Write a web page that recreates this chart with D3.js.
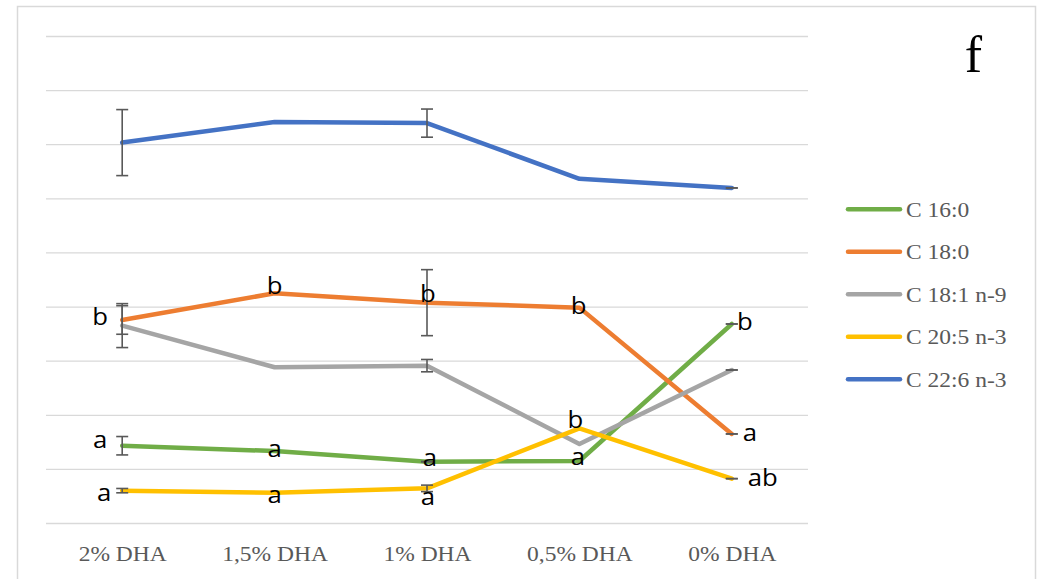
<!DOCTYPE html>
<html>
<head>
<meta charset="utf-8">
<script src="https://cdn.jsdelivr.net/npm/d3@7"></script>
<style>
  html, body { margin: 0; padding: 0; background: #fff; }
  svg { display: block; }
</style>
</head>
<body>
<svg id="chart" width="1043" height="579"></svg>
<script>
// Treatments on the x axis
const categories = ["2% DHA", "1,5% DHA", "1% DHA", "0,5% DHA", "0% DHA"];
const seriesNames = ["C 16:0", "C 18:0", "C 18:1 n-9", "C 20:5 n-3", "C 22:6 n-3"];

// Fatty acid content per treatment
const c160 = [7.14, 6.65, 5.67, 5.73, 18.39];
const c180 = [18.76, 21.23, 20.36, 19.90, 8.23];
const c181 = [18.24, 14.39, 14.54, 7.30, 14.14];
const c205 = [2.99, 2.80, 3.20, 8.75, 4.10];
const c226 = [35.15, 37.05, 36.95, 31.80, 30.96];

// Standard deviations (null = no error bar shown)
const errC160 = [0.85, null, 0.00, null, 0.00];
const errC180 = [1.32, null, 3.05, null, 0.00];
const errC181 = [2.03, null, 0.57, null, 0.00];
const errC205 = [0.20, null, 0.30, null, 0.00];
const errC226 = [3.05, null, 1.30, null, 0.00];

// Significance letters
const lettersC160 = ["a", "a", "a", "a", "b"];
const lettersC180 = ["b", "b", "b", "b", "a"];
const lettersC205 = ["a", "a", "a", "b", "ab"];

// Y axis gridline values
const yTicks = [0, 5, 10, 15, 20, 25, 30, 35, 40, 45];

const panelLetter = "f";

const colors = ["#70AD47", "#ED7D31", "#A5A5A5", "#FFC000", "#4472C4"];
const values = [c160, c180, c181, c205, c226];
const errors = [errC160, errC180, errC181, errC205, errC226];

const svg = d3.select("#chart");
const TEXT_STRETCH = 1.12;

// Chart frame
svg.append("rect")
  .attr("x", 17.5).attr("y", 6.5)
  .attr("width", 1018).attr("height", 600)
  .attr("fill", "#fff")
  .attr("stroke", "#D9D9D9").attr("stroke-width", 1.5);

const x = d3.scalePoint().domain(categories).range([46, 808]).padding(0.5);
const y = d3.scaleLinear().domain([0, 45]).range([523, 36]);

// Horizontal gridlines
svg.append("g")
  .attr("transform", "translate(46,0)")
  .call(d3.axisLeft(y).tickValues(yTicks).tickSize(-762).tickFormat(""))
  .call(g => g.select(".domain").remove())
  .call(g => g.selectAll(".tick line").attr("stroke", "#D9D9D9").attr("stroke-width", 1.3));

// Category labels
const xAxis = svg.append("g")
  .attr("transform", "translate(0,523)")
  .call(d3.axisBottom(x).tickSize(0).tickPadding(0));
xAxis.select(".domain").remove();
xAxis.selectAll(".tick text")
  .attr("y", 0).attr("dy", null)
  .attr("transform", "translate(0,37.5) scale(" + TEXT_STRETCH + ",1)")
  .attr("font-family", "'Liberation Serif', 'Times New Roman', serif")
  .attr("font-size", 21)
  .attr("fill", "#595959");

// Series lines
const line = d3.line()
  .x((d, i) => x(categories[i]))
  .y(d => y(d));

values.forEach((vals, s) => {
  svg.append("path")
    .datum(vals)
    .attr("d", line)
    .attr("fill", "none")
    .attr("stroke", colors[s])
    .attr("stroke-width", 4.5)
    .attr("stroke-linecap", "round")
    .attr("stroke-linejoin", "round");
});

// Error bars
const capHalf = 6;
const eb = svg.append("g").attr("stroke", "#595959").attr("stroke-width", 1.6);
values.forEach((vals, s) => {
  vals.forEach((v, i) => {
    const e = errors[s][i];
    if (e === null) return;
    const cx = x(categories[i]);
    const y0 = y(v + e), y1 = y(v - e);
    if (e > 0) {
      eb.append("line").attr("x1", cx).attr("x2", cx).attr("y1", y0).attr("y2", y1);
    }
    eb.append("line").attr("x1", cx - capHalf).attr("x2", cx + capHalf).attr("y1", y0).attr("y2", y0);
    eb.append("line").attr("x1", cx - capHalf).attr("x2", cx + capHalf).attr("y1", y1).attr("y2", y1);
  });
});

// Letter placement relative to each point (dx to text centre, dy to baseline)
const letterSets = [
  { vals: c160, letters: lettersC160,
    place: [[-22, 2], [0, 5.7], [3, 4.3], [-1.4, 4], [13, 6]] },
  { vals: c180, letters: lettersC180,
    place: [[-22, 5], [0, 1], [1, -1], [-0.7, 6.6], [18, 6.7]] },
  { vals: c205, letters: lettersC205,
    place: [[-18, 10], [0, 10.6], [1, 16.7], [-4, -0.6], [31, 7.3]] }
];

const lg = svg.append("g")
  .attr("font-family", "'Open Sans', 'Liberation Sans', sans-serif")
  .attr("font-size", 23)
  .attr("fill", "#000")
  .attr("text-anchor", "middle");
letterSets.forEach(set => {
  set.letters.forEach((t, i) => {
    const px = x(categories[i]) + set.place[i][0];
    const py = y(set.vals[i]) + set.place[i][1];
    lg.append("text")
      .attr("transform", "translate(" + px + "," + py + ") scale(" + TEXT_STRETCH + ",1)")
      .text(t);
  });
});

// Legend
const legend = svg.append("g").attr("transform", "translate(846,209.3)");
seriesNames.forEach((name, s) => {
  const row = legend.append("g").attr("transform", "translate(0," + (s * 42.5) + ")");
  row.append("line")
    .attr("x1", 2).attr("x2", 54)
    .attr("stroke", colors[s]).attr("stroke-width", 4.5)
    .attr("stroke-linecap", "round");
  row.append("text")
    .attr("transform", "translate(60,7.4) scale(" + TEXT_STRETCH + ",1)")
    .attr("font-family", "'Liberation Serif', 'Times New Roman', serif")
    .attr("font-size", 21)
    .attr("fill", "#595959")
    .text(name);
});

// Panel letter
svg.append("text")
  .attr("transform", "translate(973.5,71.5)")
  .attr("text-anchor", "middle")
  .attr("font-family", "'Liberation Serif', 'Times New Roman', serif")
  .attr("font-size", 52)
  .attr("fill", "#000")
  .text(panelLetter);
</script>
</body>
</html>
